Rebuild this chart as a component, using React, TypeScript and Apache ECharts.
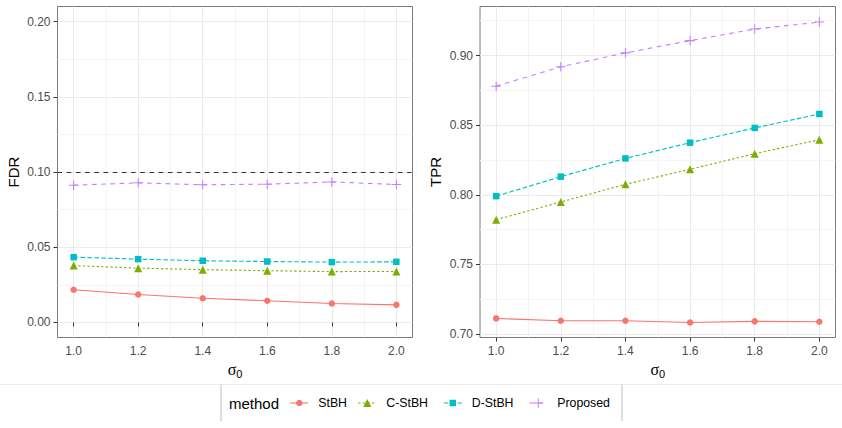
import React, { useEffect, useRef } from 'react';
import * as echarts from 'echarts';

const sigma = [1.0, 1.2, 1.4, 1.6, 1.8, 2.0];
const methods = ['StBH', 'C-StBH', 'D-StBH', 'Proposed'];

const fdrStBH = [0.0217, 0.0186, 0.0161, 0.0144, 0.0126, 0.0117];
const fdrCStBH = [0.0378, 0.0361, 0.0351, 0.0344, 0.0338, 0.0339];
const fdrDStBH = [0.0434, 0.0421, 0.041, 0.0405, 0.0401, 0.0403];
const fdrProposed = [0.0912, 0.0928, 0.0915, 0.0919, 0.0934, 0.0917];

const tprStBH = [0.7112, 0.7095, 0.7095, 0.7083, 0.7091, 0.7088];
const tprCStBH = [0.7821, 0.7948, 0.8075, 0.8183, 0.8295, 0.8395];
const tprDStBH = [0.799, 0.813, 0.8261, 0.8374, 0.848, 0.858];
const tprProposed = [0.878, 0.8919, 0.9019, 0.9107, 0.919, 0.924];

const xMajorTicks = [1.0, 1.2, 1.4, 1.6, 1.8, 2.0];
const xMinorTicks = [1.1, 1.3, 1.5, 1.7, 1.9];
const fdrMajorTicks = [0, 0.05, 0.1, 0.15, 0.2];
const fdrMinorTicks = [0.025, 0.075, 0.125, 0.175];
const tprMajorTicks = [0.7, 0.75, 0.8, 0.85, 0.9];
const tprMinorTicks = [0.725, 0.775, 0.825, 0.875, 0.925];
const fdrTarget = 0.1;

const COLORS = ['#F8766D', '#7CAE00', '#00BFC4', '#C77CFF'];
const DASHES: any[] = ['solid', [2.3, 2.3], [4.6, 2.3], [4.6, 4.6]];
const PLUS = 'path://M-0.11,-1H0.11V-0.11H1V0.11H0.11V1H-0.11V0.11H-1V-0.11H-0.11Z';
const SYMBOLS = ['circle', 'triangle', 'rect', PLUS];
const SIZES = [6.5, 8, 6.5, 9.5];

const FONT = '"Liberation Sans", Arial, Helvetica, sans-serif';

export default function App() {
  const ref = useRef<HTMLDivElement>(null);

  useEffect(() => {
    if (!ref.current) return;
    const chart = echarts.init(ref.current, undefined, { renderer: 'svg' });

    const grids = [
      { left: 57.5, top: 6.5, width: 355, height: 331 },
      { left: 480, top: 6.5, width: 355.5, height: 331 },
    ];

    const majorSplit = { show: true, lineStyle: { color: '#EBEBEB', width: 1 } };
    const minorSplit = { show: true, lineStyle: { color: '#F4F4F4', width: 1 } };

    const xAxes: any[] = [];
    const yAxes: any[] = [];
    const yRanges = [
      { min: -0.01, max: 0.21, major: fdrMajorTicks, minor: fdrMinorTicks, name: 'FDR' },
      { min: 0.6975, max: 0.9352, major: tprMajorTicks, minor: tprMinorTicks, name: 'TPR' },
    ];

    for (let g = 0; g < 2; g++) {
      xAxes.push({
        type: 'value', gridIndex: g, position: 'bottom', min: 0.95, max: 2.05,
        axisLine: { show: false },
        axisTick: { show: true, customValues: xMajorTicks, length: 4, lineStyle: { color: '#333', width: 1 } },
        axisLabel: {
          show: true, customValues: xMajorTicks, margin: 7,
          formatter: (v: number) => v.toFixed(1),
          color: '#4D4D4D', fontSize: 12, fontFamily: FONT,
        },
        splitLine: majorSplit,
        name: '{s|σ}{z|0}', nameLocation: 'middle', nameGap: 17,
        nameTextStyle: {
          rich: {
            s: { fontSize: 16, fontFamily: '"Liberation Serif", "DejaVu Serif", serif', color: '#000', lineHeight: 20, verticalAlign: 'middle' },
            z: { fontSize: 11, fontFamily: FONT, color: '#000', lineHeight: 20, verticalAlign: 'bottom' },
          },
        },
        z: 1,
      });
      xAxes.push({
        type: 'value', gridIndex: g, position: 'top', min: 0.95, max: 2.05,
        axisLine: { show: false },
        axisTick: { show: false, customValues: xMinorTicks },
        axisLabel: { show: false, customValues: xMinorTicks },
        splitLine: minorSplit,
        z: 0,
      });
      const r = yRanges[g];
      yAxes.push({
        type: 'value', gridIndex: g, position: 'left', min: r.min, max: r.max,
        axisLine: { show: false },
        axisTick: { show: true, customValues: r.major, length: 4, lineStyle: { color: '#333', width: 1 } },
        axisLabel: {
          show: true, customValues: r.major, margin: 7,
          formatter: (v: number) => v.toFixed(2),
          color: '#4D4D4D', fontSize: 12, fontFamily: FONT,
        },
        splitLine: majorSplit,
        name: r.name, nameLocation: 'middle', nameGap: 37,
        nameTextStyle: { fontSize: 15, fontFamily: FONT, color: '#000' },
        z: 1,
      });
      yAxes.push({
        type: 'value', gridIndex: g, position: 'right', min: r.min, max: r.max,
        axisLine: { show: false },
        axisTick: { show: false, customValues: r.minor },
        axisLabel: { show: false, customValues: r.minor },
        splitLine: minorSplit,
        z: 0,
      });
    }

    const fdrData = [fdrStBH, fdrCStBH, fdrDStBH, fdrProposed];
    const tprData = [tprStBH, tprCStBH, tprDStBH, tprProposed];

    const series: any[] = [];
    [fdrData, tprData].forEach((set, g) => {
      set.forEach((vals, i) => {
        const s: any = {
          type: 'line',
          name: methods[i],
          xAxisIndex: g * 2,
          yAxisIndex: g * 2,
          data: sigma.map((x, k) => [x, vals[k]]),
          symbol: SYMBOLS[i],
          symbolSize: SIZES[i],
          showSymbol: true,
          lineStyle: { color: COLORS[i], width: 1.1, type: DASHES[i] },
          itemStyle: { color: COLORS[i] },
          emphasis: { disabled: true },
          silent: true,
          z: 3 + i,
        };
        if (g === 0 && i === 0) {
          s.markLine = {
            silent: true,
            symbol: ['none', 'none'],
            label: { show: false },
            lineStyle: { color: '#333', type: [4.6, 4.6], width: 1.1 },
            data: [{ yAxis: fdrTarget }],
          };
        }
        series.push(s);
      });
    });

    // legend (drawn as graphic)
    const ly = 403;
    const keyCenters = [299.3, 367.3, 452.8, 538.3];
    const graphics: any[] = [
      { type: 'line', shape: { x1: 0, y1: 384.5, x2: 842, y2: 384.5 }, style: { stroke: '#EBEBEB', lineWidth: 1 } },
      { type: 'line', shape: { x1: 221, y1: 384.5, x2: 221, y2: 421 }, style: { stroke: '#BEBEBE', lineWidth: 1 } },
      { type: 'line', shape: { x1: 622, y1: 384.5, x2: 622, y2: 421 }, style: { stroke: '#BEBEBE', lineWidth: 1 } },
      { type: 'text', style: { text: 'method', x: 229, y: ly, fill: '#000', fontSize: 15, fontFamily: FONT, verticalAlign: 'middle', align: 'left' } },
    ];
    methods.forEach((m, i) => {
      const cx = keyCenters[i];
      const dash = DASHES[i] === 'solid' ? null : DASHES[i];
      graphics.push({
        type: 'line', shape: { x1: cx - 9, y1: ly, x2: cx + 9, y2: ly },
        style: { stroke: COLORS[i], lineWidth: 1.1, lineDash: dash },
      });
      if (i === 0) {
        graphics.push({ type: 'circle', shape: { cx, cy: ly, r: SIZES[0] / 2 }, style: { fill: COLORS[i] } });
      } else if (i === 1) {
        const h = SIZES[1];
        graphics.push({ type: 'polygon', shape: { points: [[cx, ly - h / 2], [cx + h / 2, ly + h / 2], [cx - h / 2, ly + h / 2]] }, style: { fill: COLORS[i] } });
      } else if (i === 2) {
        const s = SIZES[2];
        graphics.push({ type: 'rect', shape: { x: cx - s / 2, y: ly - s / 2, width: s, height: s }, style: { fill: COLORS[i] } });
      } else {
        const s = SIZES[3] / 2;
        graphics.push({ type: 'line', shape: { x1: cx - s, y1: ly, x2: cx + s, y2: ly }, style: { stroke: COLORS[i], lineWidth: 1 } });
        graphics.push({ type: 'line', shape: { x1: cx, y1: ly - s, x2: cx, y2: ly + s }, style: { stroke: COLORS[i], lineWidth: 1 } });
      }
      graphics.push({
        type: 'text',
        style: { text: m, x: cx + 19, y: ly, fill: '#000', fontSize: 12.3, fontFamily: FONT, verticalAlign: 'middle', align: 'left' },
      });
    });

    chart.setOption({
      animation: false,
      backgroundColor: '#FFFFFF',
      grid: grids.map((g) => ({ ...g, show: true, borderColor: '#7A7A7A', borderWidth: 1, backgroundColor: 'transparent', containLabel: false, outerBoundsMode: 'none' })),
      xAxis: xAxes,
      yAxis: yAxes,
      series,
      graphic: graphics,
      tooltip: { show: false },
    });

    return () => chart.dispose();
  }, []);

  return <div ref={ref} style={{ position: 'absolute', left: 0, top: 0, width: 842, height: 428 }} />;
}
